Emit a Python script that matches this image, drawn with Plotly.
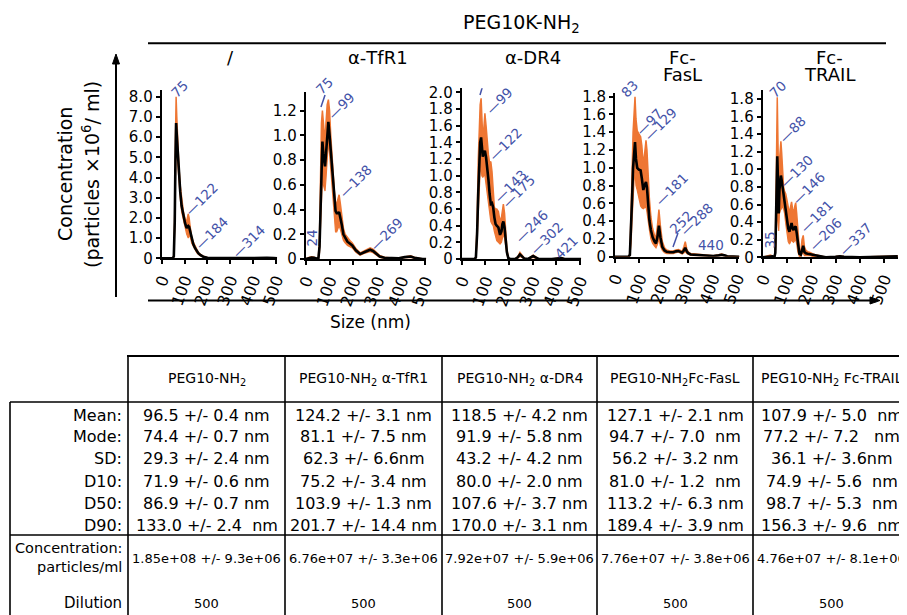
import plotly.graph_objects as go

W, H = 907, 615
OFF = 8  # page body offset of the figure inside the browser window
FONT = "DejaVu Sans"
ORANGE = "#ee7633"
BLUE = "#4352a8"

# ---------------- data: NTA size distributions ----------------
p1_size = [0, 48, 53, 57, 60, 63, 66, 70, 75, 81, 87, 95, 102, 109, 116, 120, 124, 131, 138, 146, 153, 160, 170, 182, 200, 230, 280, 330, 370, 400, 430, 460, 490, 505]
p1_mean = [0, 0, 0.1, 1.8, 4.8, 6.7, 6.1, 5.2, 4.2, 3.3, 2.6, 2.1, 1.75, 1.5, 1.6, 1.55, 1.35, 0.9, 0.7, 0.5, 0.35, 0.25, 0.15, 0.08, 0.03, 0.01, 0.01, 0.01, 0.02, 0.03, 0.03, 0.02, 0.01, 0]
p1_upper = [0, 0, 0.15, 2.2, 5.8, 8.0, 7.0, 5.8, 4.6, 3.6, 2.9, 2.3, 1.95, 1.8, 2.2, 2.0, 1.6, 1.05, 0.8, 0.6, 0.42, 0.3, 0.19, 0.1, 0.04, 0.02, 0.015, 0.015, 0.03, 0.04, 0.04, 0.03, 0.015, 0]
p1_lower = [0, 0, 0.05, 1.4, 3.8, 5.6, 5.3, 4.6, 3.8, 3.0, 2.3, 1.9, 1.5, 1.2, 1.0, 1.1, 1.1, 0.75, 0.6, 0.4, 0.28, 0.2, 0.11, 0.06, 0.02, 0.005, 0.005, 0.005, 0.01, 0.02, 0.02, 0.01, 0.005, 0]

p2_size = [0, 8, 15, 25, 35, 45, 53, 58, 62, 66, 70, 74, 78, 81, 85, 90, 95, 100, 105, 110, 115, 120, 125, 130, 135, 140, 145, 151, 158, 165, 175, 185, 195, 210, 228, 245, 258, 270, 282, 295, 310, 330, 360, 390, 415, 430, 440, 455, 470, 490, 505]
p2_mean = [0, 0.005, 0.01, 0.012, 0.01, 0.003, 0, 0.1, 0.45, 0.8, 0.95, 0.85, 0.75, 0.75, 0.85, 1.02, 1.11, 1.0, 0.88, 0.75, 0.6, 0.45, 0.39, 0.37, 0.37, 0.38, 0.34, 0.28, 0.2, 0.17, 0.14, 0.125, 0.11, 0.07, 0.04, 0.055, 0.065, 0.075, 0.065, 0.045, 0.02, 0.01, 0.005, 0.005, 0.015, 0.02, 0.02, 0.01, 0.005, 0, 0]
p2_upper = [0, 0.01, 0.015, 0.018, 0.015, 0.005, 0, 0.2, 0.7, 1.1, 1.2, 1.1, 0.95, 0.95, 1.1, 1.25, 1.29, 1.2, 1.0, 0.88, 0.7, 0.55, 0.45, 0.45, 0.5, 0.52, 0.45, 0.35, 0.25, 0.2, 0.17, 0.15, 0.13, 0.085, 0.05, 0.065, 0.08, 0.09, 0.08, 0.055, 0.028, 0.015, 0.008, 0.008, 0.02, 0.027, 0.027, 0.015, 0.008, 0, 0]
p2_lower = [0, 0, 0.005, 0.006, 0.005, 0, 0, 0.05, 0.3, 0.55, 0.65, 0.6, 0.55, 0.55, 0.65, 0.85, 0.95, 0.85, 0.72, 0.6, 0.45, 0.3, 0.22, 0.22, 0.25, 0.27, 0.24, 0.2, 0.15, 0.13, 0.11, 0.1, 0.09, 0.055, 0.03, 0.045, 0.05, 0.06, 0.05, 0.035, 0.012, 0.005, 0.002, 0.002, 0.01, 0.013, 0.013, 0.005, 0.002, 0, 0]

p3_size = [0, 55, 60, 65, 70, 75, 78, 82, 85, 89, 93, 98, 103, 108, 113, 118, 123, 128, 133, 138, 143, 148, 155, 162, 168, 172, 176, 181, 186, 191, 197, 205, 225, 237, 246, 255, 265, 280, 292, 302, 312, 325, 380, 410, 421, 435, 505]
p3_mean = [0, 0, 0.02, 0.3, 0.8, 1.2, 1.4, 1.46, 1.3, 1.23, 1.27, 1.3, 1.22, 1.1, 0.95, 0.78, 0.66, 0.67, 0.62, 0.5, 0.42, 0.4, 0.38, 0.29, 0.33, 0.42, 0.45, 0.38, 0.2, 0.08, 0.01, 0, 0, 0.02, 0.055, 0.03, 0.005, 0, 0.02, 0.035, 0.02, 0, 0, 0.005, 0.01, 0, 0]
p3_upper = [0, 0, 0.03, 0.45, 1.2, 1.65, 1.85, 1.93, 1.6, 1.45, 1.55, 1.75, 1.6, 1.4, 1.25, 1.15, 1.17, 1.05, 0.8, 0.62, 0.6, 0.6, 0.57, 0.45, 0.5, 0.62, 0.66, 0.55, 0.28, 0.12, 0.02, 0, 0, 0.03, 0.08, 0.045, 0.008, 0, 0.03, 0.045, 0.03, 0, 0, 0.008, 0.015, 0, 0]
p3_lower = [0, 0, 0.01, 0.2, 0.55, 0.9, 1.05, 1.1, 1.0, 0.98, 1.0, 1.0, 0.9, 0.8, 0.68, 0.55, 0.45, 0.42, 0.4, 0.33, 0.27, 0.22, 0.2, 0.18, 0.2, 0.28, 0.3, 0.25, 0.12, 0.05, 0.005, 0, 0, 0.01, 0.03, 0.015, 0.002, 0, 0.01, 0.02, 0.01, 0, 0, 0.002, 0.005, 0, 0]

p4_size = [0, 55, 61, 66, 70, 74, 78, 82, 86, 91, 98, 105, 110, 116, 121, 127, 131, 136, 141, 147, 154, 162, 168, 174, 180, 186, 194, 203, 212, 225, 239, 250, 260, 268, 275, 282, 288, 294, 300, 310, 335, 370, 403, 425, 437, 448, 460, 510]
p4_mean = [0, 0, 0.02, 0.3, 0.65, 1.0, 1.2, 1.29, 1.1, 1.0, 0.98, 0.97, 0.88, 0.75, 0.8, 0.84, 0.78, 0.58, 0.41, 0.3, 0.22, 0.17, 0.15, 0.22, 0.35, 0.22, 0.11, 0.07, 0.055, 0.05, 0.05, 0.06, 0.064, 0.055, 0.045, 0.07, 0.1, 0.06, 0.04, 0.025, 0.02, 0.012, 0.008, 0.015, 0.022, 0.015, 0.005, 0]
p4_upper = [0, 0, 0.03, 0.45, 0.95, 1.4, 1.7, 1.8, 1.55, 1.42, 1.38, 1.35, 1.25, 1.03, 1.15, 1.31, 1.2, 0.9, 0.65, 0.45, 0.32, 0.24, 0.22, 0.35, 0.53, 0.35, 0.17, 0.1, 0.075, 0.065, 0.065, 0.075, 0.08, 0.07, 0.06, 0.11, 0.17, 0.09, 0.055, 0.035, 0.028, 0.018, 0.012, 0.022, 0.03, 0.02, 0.008, 0]
p4_lower = [0, 0, 0.01, 0.15, 0.4, 0.65, 0.85, 0.95, 0.8, 0.75, 0.65, 0.57, 0.55, 0.54, 0.55, 0.56, 0.5, 0.38, 0.3, 0.2, 0.15, 0.12, 0.1, 0.14, 0.2, 0.12, 0.07, 0.045, 0.035, 0.035, 0.035, 0.045, 0.05, 0.04, 0.03, 0.04, 0.06, 0.035, 0.025, 0.015, 0.012, 0.006, 0.004, 0.008, 0.014, 0.01, 0.002, 0]

p5_size = [0, 15, 25, 32, 40, 48, 52, 56, 60, 63, 66, 69, 72, 75, 78, 82, 86, 90, 95, 100, 105, 110, 115, 119, 123, 127, 132, 136, 140, 145, 151, 157, 162, 167, 172, 178, 185, 195, 205, 222, 240, 260, 300, 318, 335, 400, 480, 520, 538, 557]
p5_mean = [0, 0.005, 0.012, 0.015, 0.01, 0, 0.05, 0.6, 1.15, 0.88, 0.5, 0.77, 0.9, 0.93, 0.88, 0.8, 0.72, 0.65, 0.55, 0.42, 0.33, 0.29, 0.36, 0.39, 0.33, 0.31, 0.34, 0.35, 0.28, 0.15, 0.04, 0.03, 0.1, 0.13, 0.06, 0.045, 0.04, 0.035, 0.025, 0.015, 0.005, 0, 0.005, 0.01, 0.005, 0, 0.005, 0.01, 0.015, 0.01]
p5_upper = [0, 0.01, 0.02, 0.025, 0.015, 0, 0.08, 1.0, 1.82, 1.3, 0.78, 1.1, 1.3, 1.32, 1.2, 0.95, 0.8, 0.75, 0.72, 0.65, 0.55, 0.5, 0.58, 0.63, 0.55, 0.5, 0.58, 0.62, 0.5, 0.3, 0.1, 0.06, 0.2, 0.25, 0.12, 0.08, 0.065, 0.055, 0.04, 0.025, 0.01, 0.002, 0.01, 0.015, 0.01, 0.002, 0.01, 0.015, 0.02, 0.015]
p5_lower = [0, 0, 0.005, 0.008, 0.005, 0, 0.02, 0.3, 0.5, 0.45, 0.3, 0.5, 0.55, 0.55, 0.55, 0.6, 0.55, 0.5, 0.38, 0.25, 0.18, 0.15, 0.18, 0.2, 0.18, 0.17, 0.19, 0.2, 0.15, 0.06, 0.01, 0.01, 0.04, 0.05, 0.02, 0.02, 0.02, 0.02, 0.01, 0.008, 0.002, 0, 0.002, 0.005, 0.002, 0, 0.002, 0.005, 0.01, 0.005]

panel_titles = [["/"], ["α-TfR1"], ["α-DR4"], ["Fc-", "FasL"], ["Fc-", "TRAIL"]]
x_ticks = [0, 100, 200, 300, 400, 500]
y_ticks = [
    [0, 1, 2, 3, 4, 5, 6, 7, 8],
    [0, 0.2, 0.4, 0.6, 0.8, 1.0, 1.2],
    [0, 0.2, 0.4, 0.6, 0.8, 1.0, 1.2, 1.4, 1.6, 1.8, 2.0],
    [0, 0.2, 0.4, 0.6, 0.8, 1.0, 1.2, 1.4, 1.6, 1.8],
    [0, 0.2, 0.4, 0.6, 0.8, 1.0, 1.2, 1.4, 1.6, 1.8],
]

# peak labels: (text, size position, height, kind)  d = diagonal, v = vertical, h = horizontal
p1_labels = [("75", 50.7, 8.08, "d"), ("—122", 113.7, 2.23, "d"), ("—184", 157.4, 0.57, "d"), ("—314", 320.5, 0.16, "d")]
p2_labels = [("75", 51.5, 1.35, "d"), ("—99", 101.8, 1.149, "d"), ("—138", 150.8, 0.518, "d"), ("—269", 280.7, 0.089, "d"), ("24", 26.4, 0.089, "v")]
p3_labels = [("81", 68.9, 2.137, "d"), ("—99", 111, 1.765, "d"), ("—122", 126.7, 1.209, "d"), ("—143", 147.9, 0.708, "d"), ("—175", 183, 0.648, "d"), ("—246", 237.9, 0.228, "d"), ("—302", 301.2, 0.084, "d"), ("421", 402.6, 0.036, "d")]
p4_labels = [("83", 32.8, 1.819, "d"), ("—97", 94.3, 1.391, "d"), ("—129", 129.9, 1.335, "d"), ("—181", 176.2, 0.604, "d"), ("252", 233.6, 0.289, "d"), ("—288", 278.7, 0.267, "d"), ("440", 393.4, 0.132, "h")]
p5_labels = [("70", 37.1, 1.846, "d"), ("—88", 78.3, 1.334, "d"), ("—130", 83.6, 0.823, "d"), ("—146", 133.1, 0.629, "d"), ("—181", 166, 0.311, "d"), ("—206", 201.9, 0.106, "d"), ("—337", 325.5, 0.049, "d"), ("35", 26, 0.083, "v")]
# leader strokes for labels without a dash: (panel index, x0, y0, x1, y1)
leaders = [(1, 64, 1.23, 81, 1.327), (2, 77.3, 1.969, 90, 2.089), (3, 237.7, 0.109, 258.2, 0.267)]

# ---------------- data: summary table ----------------
table_headers = ["PEG10-NH<sub>2</sub>", "PEG10-NH<sub>2</sub> α-TfR1", "PEG10-NH<sub>2</sub> α-DR4",
                 "PEG10-NH<sub>2</sub>Fc-FasL", "PEG10-NH<sub>2</sub> Fc-TRAIL"]
row_labels = ["Mean:", "Mode:", "SD:", "D10:", "D50:", "D90:"]
mean_vals = ["96.5 +/- 0.4 nm", "124.2 +/- 3.1 nm", "118.5 +/- 4.2 nm", "127.1 +/- 2.1 nm", "107.9 +/- 5.0  nm"]
mode_vals = ["74.4 +/- 0.7 nm", "81.1 +/- 7.5 nm", "91.9 +/- 5.8 nm", "94.7 +/- 7.0  nm", "77.2 +/- 7.2   nm"]
sd_vals = ["29.3 +/- 2.4 nm", "62.3 +/- 6.6nm", "43.2 +/- 4.2 nm", "56.2 +/- 3.2 nm", "36.1 +/- 3.6nm"]
d10_vals = ["71.9 +/- 0.6 nm", "75.2 +/- 3.4 nm", "80.0 +/- 2.0 nm", "81.0 +/- 1.2  nm", "74.9 +/- 5.6  nm"]
d50_vals = ["86.9 +/- 0.7 nm", "103.9 +/- 1.3 nm", "107.6 +/- 3.7 nm", "113.2 +/- 6.3 nm", "98.7 +/- 5.3  nm"]
d90_vals = ["133.0 +/- 2.4  nm", "201.7 +/- 14.4 nm", "170.0 +/- 3.1 nm", "189.4 +/- 3.9 nm", "156.3 +/- 9.6  nm"]
conc_vals = ["1.85e+08 +/- 9.3e+06", "6.76e+07 +/- 3.3e+06", "7.92e+07 +/- 5.9e+06", "7.76e+07 +/- 3.8e+06", "4.76e+07 +/- 8.1e+06"]
dilution_vals = ["500", "500", "500", "500", "500"]

# ---------------- layout geometry (pixels of the window) ----------------
def PX(p):
    return (p - OFF) / W

def PY(p):
    return 1 - (p - OFF) / H

# x0 px, px per nm, x max, y0 px, px per unit, y max
geom = [
    (161.7, 0.2287, 505, 258.3, 20.2, 8.35),
    (305.7, 0.2387, 505, 259.0, 123.6, 1.35),
    (461.7, 0.2367, 505, 259.0, 83.3, 2.05),
    (615.0, 0.2440, 510, 256.7, 88.9, 1.845),
    (762.7, 0.2427, 557, 257.3, 87.9, 1.90),
]
title_x = [230, 378, 533, 682, 829]
LABEL_SIZE = 13.5
DIAG_SHIFT = 7

series = [
    (p1_size, p1_mean, p1_upper, p1_lower),
    (p2_size, p2_mean, p2_upper, p2_lower),
    (p3_size, p3_mean, p3_upper, p3_lower),
    (p4_size, p4_mean, p4_upper, p4_lower),
    (p5_size, p5_mean, p5_upper, p5_lower),
]
labels = [p1_labels, p2_labels, p3_labels, p4_labels, p5_labels]

fig = go.Figure()
layout = dict(template="none", width=W, height=H,
              margin=dict(l=0, r=0, t=0, b=0, pad=0, autoexpand=False), autosize=False,
              paper_bgcolor="white", plot_bgcolor="white", showlegend=False,
              font=dict(family=FONT, color="black"))
annotations = []
shapes = []

for i, (xs, m, up, lo) in enumerate(series):
    n = "" if i == 0 else str(i + 1)
    xa, ya = "x" + n, "y" + n
    fig.add_trace(go.Scatter(x=xs, y=lo, xaxis=xa, yaxis=ya, mode="lines",
                             line=dict(color=ORANGE, width=1.2), hoverinfo="skip"))
    fig.add_trace(go.Scatter(x=xs, y=up, xaxis=xa, yaxis=ya, mode="lines", fill="tonexty",
                             fillcolor=ORANGE, line=dict(color=ORANGE, width=1.5), hoverinfo="skip"))
    fig.add_trace(go.Scatter(x=xs, y=m, xaxis=xa, yaxis=ya, mode="lines",
                             line=dict(color="black", width=2.6)))
    x0, sx, xmax, y0, sy, ymax = geom[i]
    layout["xaxis" + n] = dict(domain=[PX(x0), PX(x0 + xmax * sx)], range=[0, xmax], anchor=ya,
                               automargin=False, showgrid=False, zeroline=False, showline=True,
                               linecolor="black", linewidth=2, ticks="outside", ticklen=4, tickwidth=1.5,
                               tickcolor="black", tickvals=x_ticks, ticktext=[str(t) for t in x_ticks],
                               tickangle=-70, tickfont=dict(family=FONT, size=16, color="black"))
    yt = y_ticks[i]
    ytext = ["0" if t == 0 else "{:.1f}".format(t) for t in yt]
    layout["yaxis" + n] = dict(domain=[PY(y0), PY(y0 - ymax * sy)], range=[0, ymax], anchor=xa,
                               automargin=False, showgrid=False, zeroline=False, showline=True,
                               linecolor="black", linewidth=2, ticks="outside", ticklen=4, tickwidth=1.5,
                               tickcolor="black", tickvals=yt, ticktext=ytext,
                               tickfont=dict(family=FONT, size=15, color="black"))
    # panel titles
    for j, line in enumerate(panel_titles[i]):
        annotations.append(dict(text=line, x=PX(title_x[i]), y=PY(57 + 18 * j), xref="paper", yref="paper",
                                showarrow=False, xanchor="center", yanchor="middle",
                                font=dict(family=FONT, size=18, color="black")))
    # peak labels
    for (txt, lx, ly, kind) in labels[i]:
        a = dict(text=txt, x=lx, y=ly, xref=xa, yref=ya, showarrow=False, borderpad=0,
                 font=dict(family=FONT, size=LABEL_SIZE, color=BLUE))
        if kind == "d":
            a.update(textangle=-45, xanchor="left", yanchor="bottom",
                     xshift=-DIAG_SHIFT, yshift=-DIAG_SHIFT)
        elif kind == "v":
            a.update(textangle=-90, xanchor="center", yanchor="bottom")
        else:
            a.update(xanchor="center", yanchor="middle")
        annotations.append(a)

for (pi, lx0, ly0, lx1, ly1) in leaders:
    n = "" if pi == 0 else str(pi + 1)
    shapes.append(dict(type="line", xref="x" + n, yref="y" + n, x0=lx0, y0=ly0, x1=lx1, y1=ly1,
                       line=dict(color=BLUE, width=1.5)))

def pline(xa_, ya_, xb_, yb_, width):
    shapes.append(dict(type="line", xref="paper", yref="paper", x0=PX(xa_), x1=PX(xb_), y0=PY(ya_), y1=PY(yb_),
                       line=dict(color="black", width=width)))

def ptri(pts):
    d = "M " + " L ".join("{:.5f},{:.5f}".format(PX(a), PY(b)) for a, b in pts) + " Z"
    shapes.append(dict(type="path", xref="paper", yref="paper", path=d, fillcolor="black",
                       line=dict(color="black", width=1)))

# header title and lines
annotations.append(dict(text="PEG10K-NH<sub>2</sub>", x=PX(521), y=PY(24), xref="paper", yref="paper",
                        showarrow=False, xanchor="center", yanchor="middle",
                        font=dict(family=FONT, size=19, color="black")))
pline(148, 43.3, 886, 43.3, 2)
# axis titles and arrows
annotations.append(dict(text="Concentration", x=PX(65), y=PY(174), xref="paper", yref="paper",
                        showarrow=False, textangle=-90, xanchor="center", yanchor="middle",
                        font=dict(family=FONT, size=19, color="black")))
annotations.append(dict(text="(particles ×10<sup>6</sup>/ ml)", x=PX(91), y=PY(175), xref="paper", yref="paper",
                        showarrow=False, textangle=-90, xanchor="center", yanchor="middle",
                        font=dict(family=FONT, size=19, color="black")))
pline(116, 297, 116, 62, 2)
ptri([(112.5, 64), (119.5, 64), (116, 54)])
pline(148, 300.5, 872, 300.5, 2)
ptri([(870, 297), (870, 304), (880, 300.5)])
annotations.append(dict(text="Size (nm)", x=PX(370), y=PY(322), xref="paper", yref="paper",
                        showarrow=False, xanchor="center", yanchor="middle",
                        font=dict(family=FONT, size=17, color="black")))

# ---------------- table ----------------
col_lines = [128, 285, 442, 597, 753, 910]
col_centers = [(col_lines[k] + col_lines[k + 1]) / 2 for k in range(5)]
row_y = [415, 437, 459, 481, 503, 525]
TOP, HEAD_BOT, BODY_BOT, LEFT, BOTTOM = 356, 402, 535, 10, 625

def nb(s):
    return s.replace("  ", "\u00a0\u00a0")

pline(127, TOP, 915, TOP, 2)
for yy in (HEAD_BOT, BODY_BOT):
    pline(LEFT, yy, 915, yy, 1.6)
pline(LEFT, HEAD_BOT, LEFT, BOTTOM, 1.6)
for cx in col_lines:
    pline(cx, TOP, cx, BOTTOM, 1.6)

def cell(text, x, y, size, xanchor="center"):
    annotations.append(dict(text=nb(text), x=PX(x), y=PY(y), xref="paper", yref="paper", showarrow=False,
                            xanchor=xanchor, yanchor="middle", font=dict(family=FONT, size=size, color="black")))

for k, h in enumerate(table_headers):
    cell(h, col_centers[k], 379, 14)
for r, lab in enumerate(row_labels):
    cell(lab, 124, row_y[r], 16, "right")
for r, vals in enumerate([mean_vals, mode_vals, sd_vals, d10_vals, d50_vals, d90_vals]):
    for k, v in enumerate(vals):
        cell(v, col_centers[k], row_y[r], 16)
cell("Concentration:", 124, 548, 14.5, "right")
cell("particles/ml", 124, 567, 14.5, "right")
for k, v in enumerate(conc_vals):
    cell(v, col_centers[k], 558, 13)
cell("Dilution", 124, 603, 15, "right")
for k, v in enumerate(dilution_vals):
    cell(v, col_centers[k], 603, 13)

layout["annotations"] = annotations
layout["shapes"] = shapes
fig.update_layout(**layout)
fig.write_html("out.html")
